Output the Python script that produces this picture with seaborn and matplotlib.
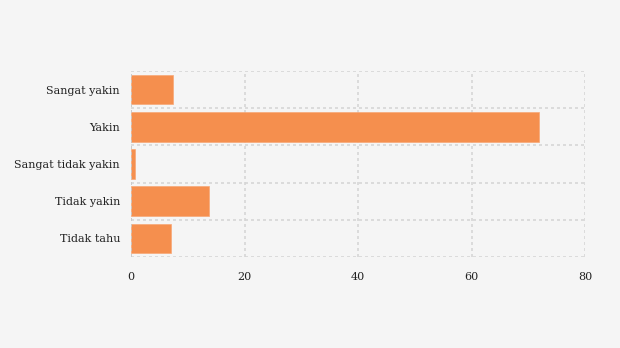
import matplotlib
matplotlib.use("Agg")
import matplotlib.pyplot as plt
import seaborn as sns
import pandas as pd
import numpy as np

categories = ["Sangat yakin", "Yakin", "Sangat tidak yakin", "Tidak yakin", "Tidak tahu"]
values = [7.3, 71.9, 0.6, 13.7, 7.0]
xticks = [0, 20, 40, 60, 80]

df = pd.DataFrame({"cat": categories, "val": values})

sns.set_style("white")
plt.rcParams["font.family"] = ["DejaVu Serif"]

fig = plt.figure(figsize=(6.2, 3.48), dpi=100, facecolor="#f5f5f5")
ax = fig.add_axes([0.2115, 0.2615, 0.732, 0.5345])
ax.set_facecolor("#f5f5f5")

sns.barplot(data=df, x="val", y="cat", orient="h", color="#f58f4e",
            saturation=1, width=0.8, edgecolor="#f7a877", linewidth=0.5, ax=ax, zorder=3)

ax.set_xlim(0, 80)
ax.set_ylim(4.5, -0.5)
ax.set_xticks(xticks)
ax.set_xticklabels([str(t) for t in xticks], fontsize=8, color="#222222")
ax.set_yticks(range(len(categories)))
ax.set_yticklabels(categories, fontsize=8, color="#222222")
ax.set_yticks(np.arange(-0.5, len(categories), 1.0), minor=True)
ax.set_xlabel("")
ax.set_ylabel("")

for s in ax.spines.values():
    s.set_visible(False)

ax.grid(False)
ax.xaxis.grid(True, which="major", color="#d6d6d6", linestyle=(0, (1.8, 1.8)), linewidth=1.2, zorder=0)
ax.yaxis.grid(True, which="minor", color="#d6d6d6", linestyle=(0, (1.8, 1.8)), linewidth=1.2, zorder=0)
ax.tick_params(axis="y", which="major", length=3, color="#dddddd", width=1, pad=5)
ax.tick_params(axis="y", which="minor", length=0)
ax.tick_params(axis="x", which="major", length=0, pad=11)
ax.axvline(0, color="#c8c8c8", linestyle=(0, (1.8, 1.8)), linewidth=1.2, zorder=4)

fig.savefig("out.png", dpi=100, facecolor="#f5f5f5")
